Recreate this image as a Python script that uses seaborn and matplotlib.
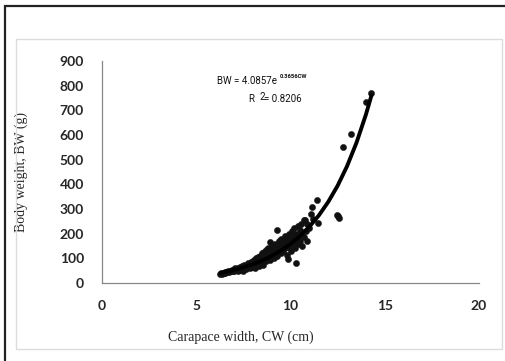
import matplotlib
matplotlib.use("Agg")
import matplotlib.pyplot as plt
import seaborn as sns
import pandas as pd
from matplotlib.patches import Rectangle

# ---- data ----
cw = [6.25, 6.3, 6.35, 6.4, 6.45, 6.5, 6.55, 6.6, 6.65, 6.7, 6.75, 6.8, 6.85, 6.9, 6.95,
      7.0, 7.0, 7.05, 7.1, 7.15, 7.2, 7.2, 7.25, 7.3, 7.35, 7.4, 7.45, 7.5, 7.5, 7.55,
      7.6, 7.65, 7.7, 7.7, 7.75, 7.8, 7.85, 7.9, 7.9, 7.95, 8.0, 8.0, 8.0, 8.05, 8.1,
      8.1, 8.15, 8.2, 8.2, 8.25, 8.3, 8.3, 8.35, 8.4, 8.4, 8.45, 8.5, 8.5, 8.5, 8.55,
      8.6, 8.6, 8.65, 8.7, 8.7, 8.7, 8.75, 8.8, 8.8, 8.85, 8.9, 8.9, 8.9, 8.95, 9.0,
      9.0, 9.0, 9.05, 9.1, 9.1, 9.15, 9.2, 9.2, 9.25, 9.3, 9.3, 9.3, 9.35, 9.4, 9.4,
      9.45, 9.5, 9.5, 9.5, 9.55, 9.6, 9.6, 9.65, 9.7, 9.7, 9.75, 9.8, 9.8, 9.85, 9.85,
      9.9, 9.9, 9.95, 10.0, 10.0, 10.0, 10.05, 10.1, 10.1, 10.15, 10.2, 10.2, 10.25, 10.3, 10.3,
      10.35, 10.4, 10.4, 10.45, 10.5, 10.5, 10.55, 10.6, 10.6, 10.7, 10.7, 10.77, 10.8, 10.85, 10.9,
      11.0, 11.1, 11.12, 11.2, 11.42, 11.48, 12.45, 12.59, 12.5, 12.76, 13.19, 13.99, 14.27]
bw = [38, 40, 36, 42, 39, 44, 41, 46, 43, 48, 45, 50, 47, 52, 49,
      55, 47, 60, 52, 58, 62, 50, 56, 65, 59, 54, 68, 62, 48, 72,
      66, 58, 75, 63, 80, 70, 60, 85, 74, 66, 90, 78, 70, 95, 84,
      62, 100, 88, 75, 105, 92, 80, 68, 110, 96, 85, 120, 100, 90, 75,
      125, 105, 95, 135, 110, 88, 100, 140, 118, 105, 165, 125, 92, 112, 150,
      130, 108, 120, 145, 100, 135, 160, 118, 128, 215, 140, 110, 150, 170, 125,
      138, 180, 155, 120, 145, 165, 130, 150, 190, 140, 160, 175, 115, 96, 150,
      200, 165, 140, 185, 160, 130, 175, 210, 150, 190, 225, 165, 140, 200, 82,
      180, 230, 160, 195, 215, 170, 240, 200, 150, 255, 185, 255, 210, 170, 240,
      225, 280, 309, 260, 336, 242, 276, 262, 270, 552, 604, 732, 770]

# trend line (BW = 4.0857 e^(0.3656 CW))
fit_cw = [6.3, 6.5, 7.0, 7.5, 8.0, 8.5, 9.0, 9.5, 10.0, 10.5, 11.0, 11.5, 12.0,
          12.5, 13.0, 13.5, 14.0, 14.3]
fit_bw = [40.9, 44.0, 52.8, 63.4, 76.1, 91.4, 109.7, 131.7, 158.2, 189.9, 228.0,
          273.7, 328.6, 394.4, 473.6, 568.6, 682.7, 761.7]

xticks = [0, 5, 10, 15, 20]
yticks = [0, 100, 200, 300, 400, 500, 600, 700, 800, 900]

df = pd.DataFrame({"CW": cw, "BW": bw})
fit = pd.DataFrame({"CW": fit_cw, "BW": fit_bw})

sns.set_style("white")
fig = plt.figure(figsize=(5.05, 3.61), dpi=100)
W, H = 505, 361

# outer dark frame and inner light frame
fig.patches.append(Rectangle((5 / W, -0.1), 1.1, 1.1 - 6 / H, transform=fig.transFigure,
                             fill=False, edgecolor="#222222", linewidth=1.6, zorder=0))
fig.patches.append(Rectangle((16 / W, (H - 349) / H), (502 - 16) / W, (349 - 39) / H,
                             transform=fig.transFigure, fill=False,
                             edgecolor="#dcdcdc", linewidth=1.0, zorder=0))

ax = fig.add_axes([102 / W, (H - 283) / H, (479 - 102) / W, (283 - 61) / H])
ax.patch.set_alpha(0)

sns.scatterplot(data=df, x="CW", y="BW", ax=ax, color="#111111", s=20,
                edgecolor="#111111", linewidth=0.3, zorder=3)
sns.lineplot(data=fit, x="CW", y="BW", ax=ax, color="#000000", linewidth=2.8,
             zorder=4)

ax.set_xlim(0, 20)
ax.set_ylim(0, 900)
ax.set_xticks(xticks)
ax.set_yticks(yticks)
ax.set_xticklabels([str(t) for t in xticks], fontfamily="Lato", fontweight="bold",
                   fontsize=10)
ax.set_yticklabels([str(t) for t in yticks], fontfamily="Lato", fontweight="bold",
                   fontsize=10)
ax.tick_params(axis="x", direction="out", length=4, width=0.8, color="#888888", pad=8)
ax.tick_params(axis="y", direction="out", length=4, width=0.8, color="#888888", pad=9)

for s in ["top", "right"]:
    ax.spines[s].set_visible(False)
for s in ["left", "bottom"]:
    ax.spines[s].set_color("#888888")
    ax.spines[s].set_linewidth(0.9)

ax.set_xlabel("Carapace width, CW (cm)", fontfamily="Liberation Serif", fontsize=10)
ax.set_ylabel("Body weight, BW (g)", fontfamily="Liberation Serif", fontsize=10)
ax.xaxis.set_label_coords((241 - 102) / (479 - 102), -(331 - 283) / (283 - 61))
ax.yaxis.set_label_coords(-(102 - 28) / (479 - 102), 0.5)

eq_font = dict(fontfamily="Roboto", color="#111111")
fig.text(217 / W, 1 - 81 / H, "BW = 4.0857e", fontsize=7, va="center", ha="left",
         **eq_font)
fig.text(280 / W, 1 - 76 / H, "0.3656CW", fontsize=4.2, va="center", ha="left",
         fontweight="bold", **eq_font)
fig.text(248 / W, 1 - 99 / H, "R", fontsize=7, va="center", ha="left", **eq_font)
fig.text(259 / W, 1 - 97 / H, "2", fontsize=7, va="center", ha="left", **eq_font)
fig.text(264 / W, 1 - 99 / H, "= 0.8206", fontsize=7, va="center", ha="left",
         **eq_font)

fig.savefig("out.png", dpi=100)
